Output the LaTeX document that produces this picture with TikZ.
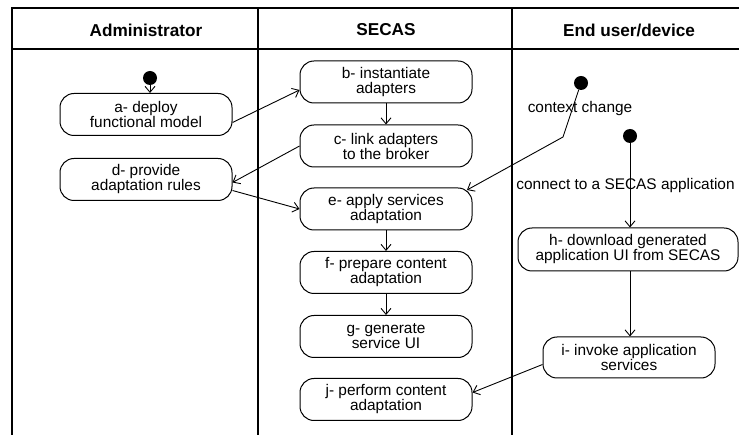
\documentclass[tikz,border=0pt]{standalone}
\usepackage{fontspec}
\setmainfont{Liberation Sans}
\usetikzlibrary{arrows.meta}
\tikzset{
  act/.style={draw, line width=1pt, rounded corners=14pt, minimum width=172pt, minimum height=42pt,
    align=center, inner sep=0pt, font=\fontsize{15.4}{15}\selectfont},
  lane/.style={line width=2pt},
  hdr/.style={font=\bfseries\fontsize{17.2}{17}\selectfont},
  lbl/.style={font=\fontsize{15.4}{15}\selectfont, inner sep=0pt},
  startdot/.style={circle, fill=black, minimum size=14pt, inner sep=0pt},
  flow/.style={line width=0.9pt, -{Straight Barb[length=6pt,width=10pt]}}
}
\begin{document}
\begin{tikzpicture}[x=1pt,y=-1pt]
\useasboundingbox (0,0) rectangle (739,435);
% swimlanes
\draw[lane] (739,8) -- (12,8) -- (12,435);
\draw[lane] (258,8) -- (258,435);
\draw[lane] (512,8) -- (512,435);
\draw[line width=1.2pt] (12,49) -- (739,49);
\node[hdr] (hA) at (146,30) {Administrator};
\node[hdr] (hS) at (386,30) {SECAS};
\node[hdr] (hE) at (629,30) {End user/device};
% start dots
\node[startdot] (s1) at (150,78) {};
\node[startdot] (s2) at (581,83) {};
\node[startdot] (s3) at (630,136) {};
% activities
\node[act] (a) at (146,114.5) {a- deploy\\functional model};
\node[act] (d) at (146,179.5) {d- provide\\adaptation rules};
\node[act] (b) at (386,82) {b- instantiate\\adapters};
\node[act] (c) at (386,146) {c- link adapters\\to the broker};
\node[act] (e) at (386,209) {e- apply services\\adaptation};
\node[act] (f) at (386,272.5) {f- prepare content\\adaptation};
\node[act] (g) at (386,336.5) {g- generate\\service UI};
\node[act] (j) at (386,399.5) {j- perform content\\adaptation};
\node[act, minimum width=220pt, minimum height=43pt] (h) at (628,249.5) {h- download generated\\application UI from SECAS};
\node[act, minimum height=41pt] (i) at (629,357.5) {i- invoke application\\services};
% labels
\node[lbl] (lcc) at (580,109) {context change};
\node[lbl] (lcs) at (625.5,186) {connect to a SECAS application};
% coordinates
\coordinate (bend) at (563,137);
\coordinate (eIn) at (467,190);
% flows
\draw[flow] (s1) -- (s1 |- a.north);
\draw[flow] ([yshift=-8pt]a.east) -- ([yshift=-8pt]b.west);
\draw[flow] (b.south) -- (c.north);
\draw[flow] (c.west) -- ([yshift=-3pt]d.east);
\draw[flow] ([yshift=-11pt]d.east) -- (e.west);
\draw[flow] (s2) -- (bend) -- (eIn);
\draw[flow] (e.south) -- (f.north);
\draw[flow] (f.south) -- (g.north);
\draw[flow] (s3) -- (s3 |- h.north);
\draw[flow] (s3 |- h.south) -- (s3 |- i.north);
\draw[flow] ([yshift=-7pt]i.west) -- ([yshift=7pt]j.east);
\end{tikzpicture}
\end{document}
